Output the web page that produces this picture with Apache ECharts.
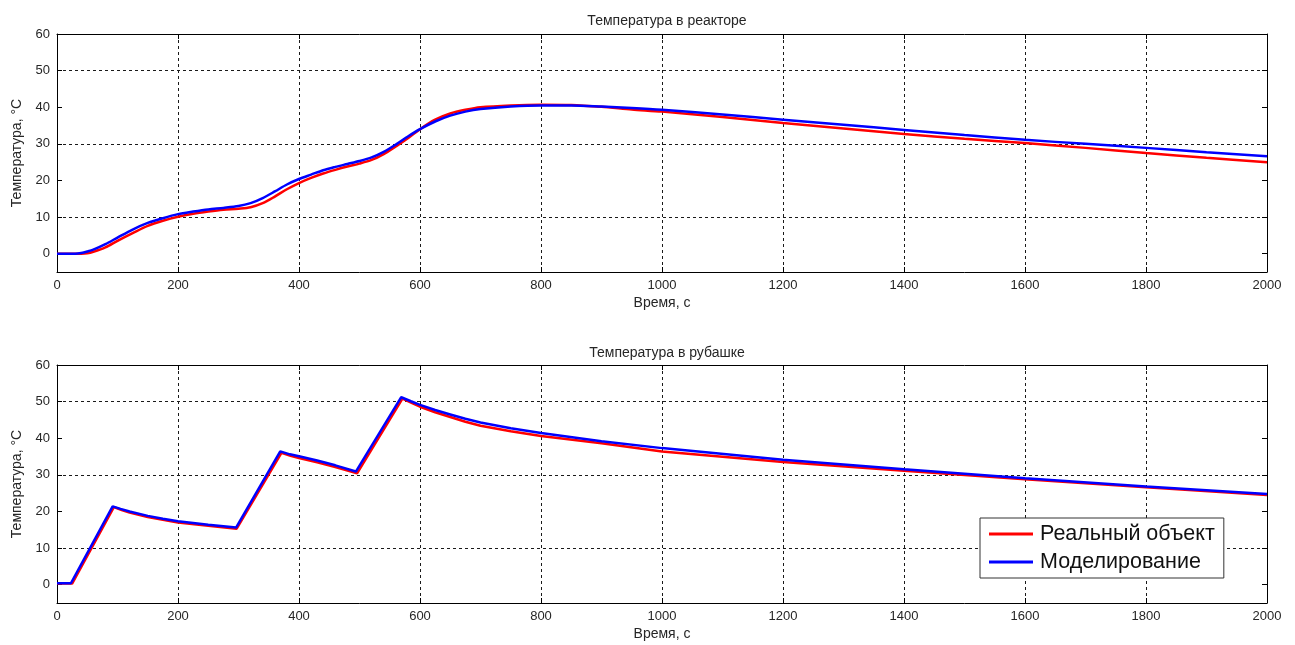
<!DOCTYPE html>
<html>
<head>
<meta charset="utf-8">
<script src="https://cdn.jsdelivr.net/npm/echarts@6/dist/echarts.min.js"></script>
<style>
html,body{margin:0;padding:0;background:#fff;}
#chart{width:1295px;height:645px;}
</style>
</head>
<body>
<div id="chart"></div>
<script>
// ---- Data ----
const titles = ['Температура в реакторе', 'Температура в рубашке'];
const xName = 'Время, с';
const yName = 'Температура, °C';
const seriesNames = ['Реальный объект', 'Моделирование'];

const reactorTime = [0, 30, 40, 50, 60, 80, 100, 125, 150, 175, 200, 225, 250, 275, 300, 320, 340, 360, 380, 400, 420, 440, 460, 480, 500, 520, 540, 560, 580, 600, 625, 650, 675, 700, 750, 800, 850, 900, 950, 1000, 1100, 1200, 1300, 1400, 1500, 1600, 1700, 1800, 1900, 2000];
const reactorReal = [0, 0, 0, 0.1, 0.5, 1.7, 3.5, 5.6, 7.6, 9.0, 10.1, 10.9, 11.5, 12.0, 12.3, 12.7, 13.8, 15.6, 17.6, 19.3, 20.7, 21.9, 22.9, 23.8, 24.6, 25.6, 27.2, 29.3, 31.5, 34.0, 36.6, 38.3, 39.3, 40.0, 40.5, 40.7, 40.6, 40.1, 39.4, 38.8, 37.3, 35.7, 34.2, 32.7, 31.4, 30.2, 28.9, 27.5, 26.2, 25.0];
const reactorModel = [0, 0, 0.2, 0.6, 1.1, 2.6, 4.4, 6.6, 8.4, 9.7, 10.8, 11.5, 12.1, 12.5, 13.0, 13.8, 15.2, 17.0, 18.9, 20.4, 21.6, 22.8, 23.7, 24.5, 25.3, 26.3, 27.8, 29.8, 32.0, 34.0, 36.1, 37.7, 38.8, 39.5, 40.2, 40.5, 40.5, 40.2, 39.8, 39.3, 38.0, 36.6, 35.2, 33.8, 32.4, 31.1, 30.0, 28.9, 27.7, 26.6];

const jacketTimeReal = [0, 25, 94, 107, 120, 150, 175, 200, 250, 297, 371, 386, 400, 430, 460, 496, 571, 587, 600, 625, 650, 675, 700, 750, 800, 900, 1000, 1200, 1400, 1600, 1800, 2000];
const jacketReal = [0.3, 0.3, 21.2, 20.4, 19.7, 18.5, 17.7, 17.0, 16.1, 15.3, 36.0, 35.2, 34.6, 33.4, 32.1, 30.4, 50.8, 49.6, 48.6, 47.1, 45.8, 44.5, 43.4, 41.9, 40.6, 38.6, 36.4, 33.5, 31.1, 28.8, 26.6, 24.5];
const jacketTimeModel = [0, 23, 92, 105, 120, 150, 175, 200, 250, 296, 369, 385, 400, 430, 460, 494, 569, 585, 600, 625, 650, 675, 700, 750, 800, 900, 1000, 1200, 1400, 1600, 1800, 2000];
const jacketModel = [0.4, 0.4, 21.4, 20.7, 20.0, 18.8, 18.0, 17.3, 16.4, 15.6, 36.4, 35.6, 35.1, 33.9, 32.6, 30.9, 51.2, 50.1, 49.1, 47.7, 46.5, 45.3, 44.3, 42.7, 41.4, 39.2, 37.3, 34.1, 31.5, 29.1, 26.8, 24.8];

const xTicks = [0, 200, 400, 600, 800, 1000, 1200, 1400, 1600, 1800, 2000];
const yTicks = [0, 10, 20, 30, 40, 50, 60];

// ---- Helpers ----
const zip = (t, v) => t.map((x, i) => [x, v[i]]);
const FONT = '"Liberation Sans", Arial, sans-serif';
const TXT = '#262626';
const gridDash = { color: '#1a1a1a', width: 1, type: [3, 3] };

function xAxisPair(gi) {
  return [{
    type: 'value', gridIndex: gi, min: 0, max: 2000, interval: 200, position: 'bottom',
    name: xName, nameLocation: 'middle', nameGap: 24,
    nameTextStyle: { fontFamily: FONT, fontSize: 14, color: TXT },
    axisLine: { show: true, onZero: false, lineStyle: { color: '#000', width: 1 } },
    axisTick: { show: true, inside: true, length: 5, lineStyle: { color: '#000' } },
    axisLabel: { fontFamily: FONT, fontSize: 13, color: TXT, margin: 7,
      formatter: v => (xTicks.indexOf(v) >= 0 ? String(v) : '') },
    splitLine: { show: true, lineStyle: gridDash }
  }, {
    type: 'value', gridIndex: gi, min: 0, max: 2000, interval: 200, position: 'top',
    axisLine: { show: true, onZero: false, lineStyle: { color: '#000', width: 1 } },
    axisTick: { show: true, inside: true, length: 5, lineStyle: { color: '#000' } },
    axisLabel: { show: false }, splitLine: { show: false }
  }];
}
function yAxisPair(gi) {
  return [{
    type: 'value', gridIndex: gi, min: -5, max: 60, interval: 5, position: 'left',
    name: yName, nameLocation: 'middle', nameGap: 32, nameRotate: 90,
    nameTextStyle: { fontFamily: FONT, fontSize: 14, color: TXT },
    axisLine: { show: true, onZero: false, lineStyle: { color: '#000', width: 1 } },
    axisTick: { show: true, inside: true, length: 5, customValues: yTicks, lineStyle: { color: '#000' } },
    axisLabel: { fontFamily: FONT, fontSize: 13, color: TXT, margin: 7, customValues: yTicks,
      formatter: v => (yTicks.indexOf(v) >= 0 ? String(v) : '') },
    splitLine: { show: true, lineStyle: Object.assign({}, gridDash, { color: ['rgba(0,0,0,0)', '#1a1a1a'] }) }
  }, {
    type: 'value', gridIndex: gi, min: -5, max: 60, interval: 5, position: 'right',
    axisLine: { show: true, onZero: false, lineStyle: { color: '#000', width: 1 } },
    axisTick: { show: true, inside: true, length: 5, customValues: yTicks, lineStyle: { color: '#000' } },
    axisLabel: { show: false }, splitLine: { show: false }
  }];
}

const lineSeries = (name, xi, yi, data, color, z, smooth) => ({
  name, type: 'line', xAxisIndex: xi, yAxisIndex: yi, data, symbol: 'none', smooth,
  lineStyle: { color, width: 2.5 }, itemStyle: { color }, z, animation: false
});

const option = {
  backgroundColor: '#fff',
  animation: false,
  title: [
    { text: titles[0], left: 662, top: 9, textAlign: 'center',
      textStyle: { fontFamily: FONT, fontSize: 14, fontWeight: 'normal', color: TXT } },
    { text: titles[1], left: 662, top: 341, textAlign: 'center',
      textStyle: { fontFamily: FONT, fontSize: 14, fontWeight: 'normal', color: TXT } }
  ],
  grid: [
    { left: 57, right: 28, top: 34, height: 238 },
    { left: 57, right: 28, top: 365, height: 238 }
  ],
  xAxis: [...xAxisPair(0), ...xAxisPair(1)],
  yAxis: [...yAxisPair(0), ...yAxisPair(1)],
  legend: {
    data: seriesNames, orient: 'vertical', left: 980, top: 518,
    padding: [5, 9, 5, 9], itemGap: 6, itemWidth: 44, itemHeight: 3, icon: 'rect',
    backgroundColor: '#fff', borderColor: '#333', borderWidth: 1, borderRadius: 0,
    textStyle: { fontFamily: FONT, fontSize: 21.5, color: '#111', lineHeight: 22, padding: [0, 0, 0, 2] }
  },
  series: [
    lineSeries(seriesNames[0], 0, 0, zip(reactorTime, reactorReal), '#ff0000', 2, 0.3),
    lineSeries(seriesNames[1], 0, 0, zip(reactorTime, reactorModel), '#0000ff', 3, 0.3),
    lineSeries(seriesNames[0], 2, 2, zip(jacketTimeReal, jacketReal), '#ff0000', 2, false),
    lineSeries(seriesNames[1], 2, 2, zip(jacketTimeModel, jacketModel), '#0000ff', 3, false)
  ]
};

const chart = echarts.init(document.getElementById('chart'), null, { renderer: 'canvas' });
chart.setOption(option);
</script>
</body>
</html>
